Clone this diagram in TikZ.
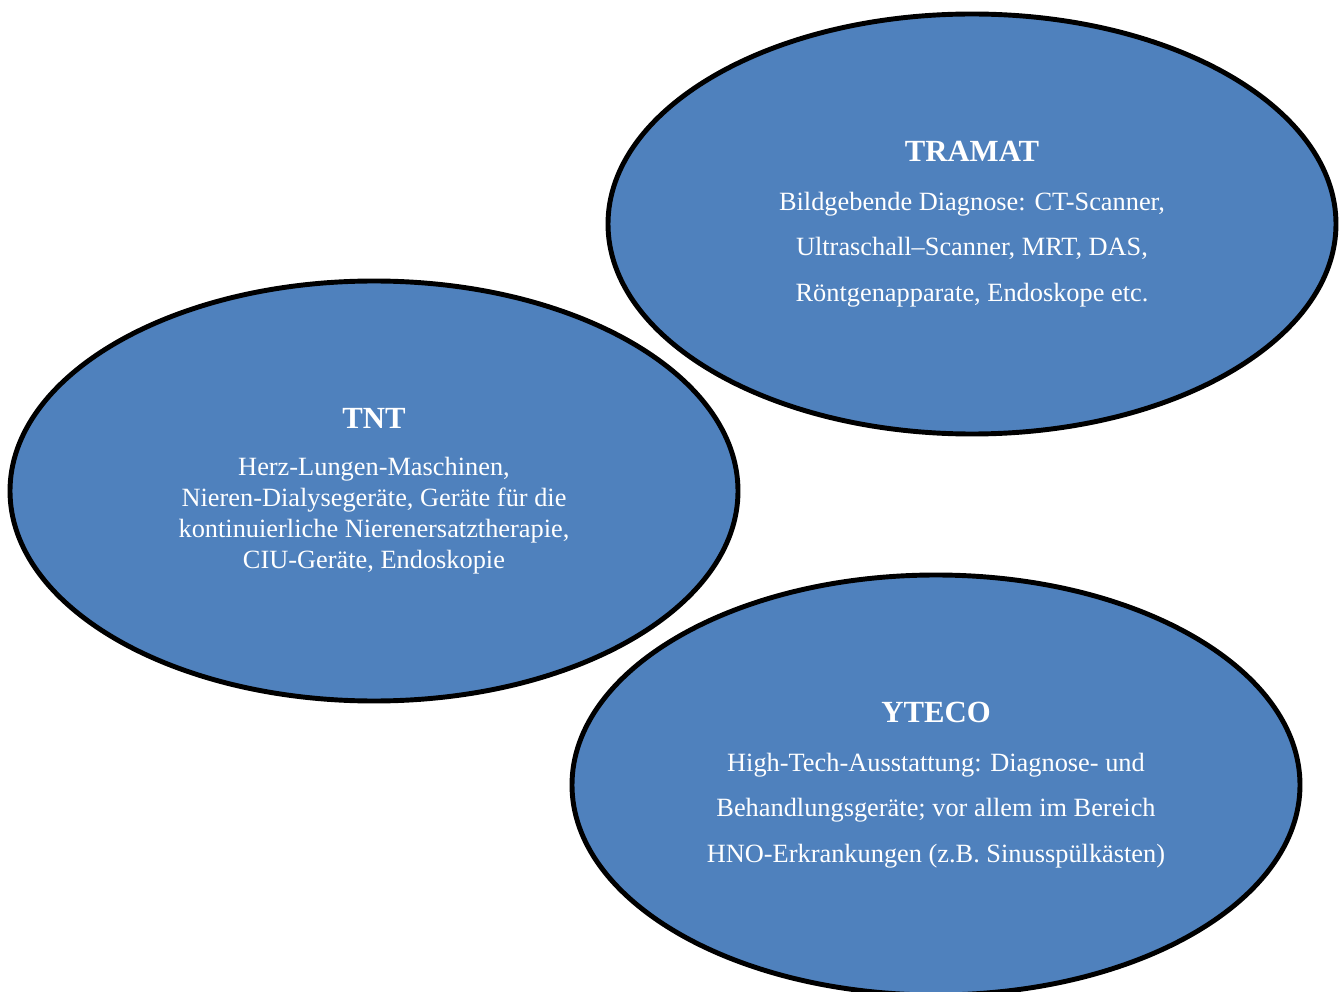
\documentclass[tikz,border=0pt]{standalone}
\usepackage{fontspec}
\setmainfont{Liberation Serif}
\usetikzlibrary{shapes.geometric}
\definecolor{ovalblue}{HTML}{4F81BD}

\begin{document}
\begin{tikzpicture}
\tikzstyle{oval} = [ellipse,draw=black,line width=2.8pt,fill=ovalblue,text=white,align=center,inner sep=0pt,minimum width=14.56cm,minimum height=8.4cm]
\tikzstyle{title} = [font=\fontsize{17.5}{21}\selectfont\bfseries]
\useasboundingbox (0,0) rectangle (26.84,-19.84);
% the three firms
\node[oval,font=\fontsize{15}{26}\selectfont] (tramat) at (19.44,-4.48) {{\fontsize{17.5}{21}\selectfont\bfseries TRAMAT}\\[2pt]
Bildgebende Diagnose: CT-Scanner,\\
Ultraschall--Scanner, MRT, DAS,\\
Röntgenapparate, Endoskope etc.};
\node[oval,font=\fontsize{15}{17.6}\selectfont] (tnt) at (7.48,-9.82) {{\fontsize{17.5}{21}\selectfont\bfseries TNT}\\[9pt]
Herz-Lungen-Maschinen,\\
Nieren-Dialysegeräte, Geräte für die\\
kontinuierliche Nierenersatztherapie,\\
CIU-Geräte, Endoskopie};
\node[oval,font=\fontsize{15}{26}\selectfont] (yteco) at (18.72,-15.7) {{\fontsize{17.5}{21}\selectfont\bfseries YTECO}\\[2pt]
High-Tech-Ausstattung: Diagnose- und\\
Behandlungsgeräte; vor allem im Bereich\\
HNO-Erkrankungen (z.B. Sinusspülkästen)};
\end{tikzpicture}
\end{document}
